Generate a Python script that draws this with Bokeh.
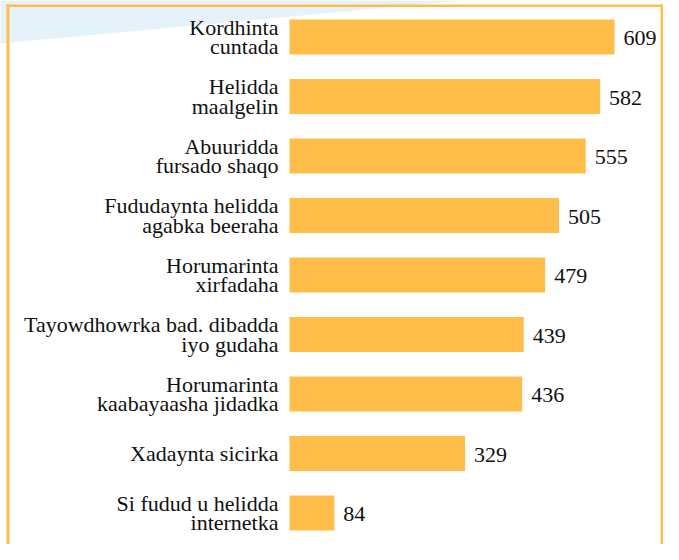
from bokeh.plotting import figure
from bokeh.models import Range1d, BoxAnnotation, ColumnDataSource
from bokeh.core.properties import value
from bokeh.embed import file_html
from bokeh.resources import INLINE

# ---- data ----
categories = [
    "Kordhinta\ncuntada",
    "Helidda\nmaalgelin",
    "Abuuridda\nfursado shaqo",
    "Fududaynta helidda\nagabka beeraha",
    "Horumarinta\nxirfadaha",
    "Tayowdhowrka bad. dibadda\niyo gudaha",
    "Horumarinta\nkaabayaasha jidadka",
    "Xadaynta sicirka",
    "Si fudud u helidda\ninternetka",
]
values = [609, 582, 555, 505, 479, 439, 436, 329, 84]
value_labels = [str(v) for v in values]

# ---- layout ----
W, H = 663, 544
SX = 0.5337      # px per unit
ZERO_PX = 289    # px of x=0
SY = 59.5        # px per category
FIRST_CENTER_PX = 36.5

BAR = "#FFBE4A"
BLUE = "#E6F2F9"
FONT = "Liberation Serif"

n = len(categories)
pos = [n - 1 - i for i in range(n)]

src = ColumnDataSource(dict(pos=pos, val=values, cat=categories, lab=value_labels))

x0 = -ZERO_PX / SX
x1 = (W - ZERO_PX) / SX
y1 = (n - 1) + FIRST_CENTER_PX / SY
y0 = y1 - H / SY

p = figure(width=W, height=H, x_range=Range1d(x0, x1), y_range=Range1d(y0, y1),
           output_backend="svg", toolbar_location=None, min_border=0,
           x_axis_location=None, y_axis_location=None)
p.grid.visible = False
p.outline_line_color = None
p.background_fill_color = "white"
p.border_fill_color = "white"


def px_x(px):
    return x0 + px / SX


def px_y(py):
    return y1 - py / SY


# decorative light-blue corner
p.patch(x=[px_x(0), px_x(462), px_x(0)], y=[px_y(0), px_y(0), px_y(43)],
        fill_color=BLUE, line_color=None)

# frame border
p.add_layout(BoxAnnotation(left=px_x(6), right=px_x(9), top=px_y(4), fill_color=BAR,
                           fill_alpha=1, line_color=None, level="overlay"))
p.add_layout(BoxAnnotation(left=px_x(660), right=px_x(663), top=px_y(4), fill_color=BAR,
                           fill_alpha=1, line_color=None, level="overlay"))
p.add_layout(BoxAnnotation(top=px_y(4), bottom=px_y(6.5), left=px_x(6), right=px_x(663),
                           fill_color=BAR, fill_alpha=1, line_color=None, level="overlay"))

p.hbar(y="pos", left=0, right="val", height=35 / SY, source=src,
       fill_color=BAR, line_color=None)

p.text(x=0, y="pos", text="cat", source=src, x_offset=-11, y_offset=0,
       text_align="right", text_baseline="middle", text_font=value(FONT),
       text_font_size="22px", text_color="#111111", text_line_height=0.77)

p.text(x="val", y="pos", text="lab", source=src, x_offset=9, y_offset=1,
       text_align="left", text_baseline="middle", text_font=value(FONT),
       text_font_size="22px", text_color="#111111")

open("out.html", "w").write(file_html(p, INLINE))
